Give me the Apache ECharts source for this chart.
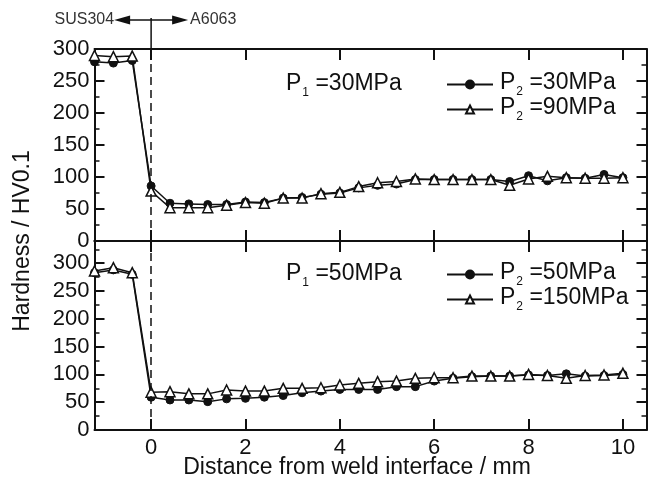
<!DOCTYPE html>
<html>
<head>
<meta charset="utf-8">
<script src="https://cdn.jsdelivr.net/npm/echarts@6/dist/echarts.min.js"></script>
<style>
  html, body { margin: 0; padding: 0; background: #fff; }
  #chart { width: 653px; height: 482px; }
</style>
</head>
<body>
<div id="chart"></div>
<script>
// Measurement positions (mm from the weld interface; negative = SUS304 side)
const distance = [-1.2, -0.8, -0.4, 0, 0.4, 0.8, 1.2, 1.6, 2.0, 2.4, 2.8, 3.2, 3.6, 4.0, 4.4,
                  4.8, 5.2, 5.6, 6.0, 6.4, 6.8, 7.2, 7.6, 8.0, 8.4, 8.8, 9.2, 9.6, 10.0];

// Upper panel: P1 = 30 MPa
const hvP1_30_P2_30 = [280, 278, 282, 86, 59, 58, 57, 57, 61, 60, 67, 68, 73, 75, 83,
                       87, 89, 96, 96, 96, 96, 96, 93, 102, 94, 99, 98, 104, 99];
const hvP1_30_P2_90 = [290, 288, 289, 78, 52, 52, 52, 56, 60, 59, 67, 67, 74, 76, 85,
                       91, 93, 97, 96, 96, 96, 96, 87, 97, 101, 99, 98, 98, 99];

// Lower panel: P1 = 50 MPa
const hvP1_50_P2_50  = [283, 288, 280, 59, 54, 54, 51, 56, 57, 59, 62, 67, 70, 73, 73,
                        73, 78, 78, 88, 93, 96, 97, 97, 99, 98, 101, 97, 98, 100];
const hvP1_50_P2_150 = [286, 292, 283, 68, 69, 65, 65, 72, 70, 70, 75, 75, 76, 81, 84,
                        87, 88, 93, 94, 94, 97, 97, 97, 100, 98, 93, 98, 99, 102];

// Axis ticks
const xTickValues = [0, 2, 4, 6, 8, 10];
const yInterval = 50;

const FONT = '"Liberation Sans", Arial, Helvetica, sans-serif';
const INK = '#111';

function pairs(values) {
  return distance.map((d, i) => [d, values[i]]);
}

function xAxes(gridIndex, withLabels) {
  const common = {
    type: 'value', gridIndex, min: -1.2, max: 10.5,
    axisLine: { show: true, onZero: false, lineStyle: { color: INK, width: 2 } },
    axisTick: { show: true, inside: true, length: 11, customValues: xTickValues,
                lineStyle: { color: INK, width: 2 } },
    splitLine: { show: false }
  };
  return [
    Object.assign({}, common, {
      position: 'bottom',
      axisLabel: withLabels
        ? { show: true, customValues: xTickValues, fontSize: 22, fontFamily: FONT, color: INK, margin: 7 }
        : { show: false }
    }),
    Object.assign({}, common, { position: 'top', axisLabel: { show: false } })
  ];
}

function yAxes(gridIndex, max) {
  const common = {
    type: 'value', gridIndex, min: 0, max, interval: yInterval,
    axisLine: { show: true, onZero: false, lineStyle: { color: INK, width: 2 } },
    axisTick: { show: true, inside: true, length: 10, lineStyle: { color: INK, width: 2 } },
    minorTick: { show: true, splitNumber: 2, length: 5, lineStyle: { color: INK, width: 1.5 } },
    splitLine: { show: false },
    minorSplitLine: { show: false }
  };
  return [
    Object.assign({}, common, {
      position: 'left',
      axisLabel: {
        show: true, fontSize: 22, fontFamily: FONT, color: INK, margin: 5,
        formatter: v => (v % yInterval === 0 ? String(v) : '')
      }
    }),
    Object.assign({}, common, { position: 'right', axisLabel: { show: false } })
  ];
}

function lineSeries(name, values, filled) {
  return {
    name, type: 'line', data: pairs(values),
    symbol: filled ? 'circle' : 'triangle',
    symbolSize: filled ? 8 : 10,
    lineStyle: { color: INK, width: 1.5 },
    itemStyle: filled
      ? { color: INK, borderColor: INK, borderWidth: 1 }
      : { color: '#fff', borderColor: INK, borderWidth: 1.5 },
    z: filled ? 3 : 4,
    animation: false
  };
}

const interfaceLine = {
  silent: true, symbol: ['none', 'none'], animation: false,
  label: { show: false },
  lineStyle: { color: INK, width: 1.5, type: [8, 5] },
  data: [{ xAxis: 0 }]
};

// "P" with a lowered index, e.g. P1 =30MPa
const subRich = {
  p: { fontSize: 23, fontFamily: FONT, fontWeight: 'normal', color: INK, padding: [0, 0, 4, 0] },
  s: { fontSize: 12, fontFamily: FONT, fontWeight: 'normal', color: INK, verticalAlign: 'bottom', padding: [0, 0, 0, 1] },
  t: { fontSize: 23, fontFamily: FONT, fontWeight: 'normal', color: INK, padding: [0, 0, 4, 0] }
};

function pLabel(idx, text) {
  return '{p|P}{s|' + idx + '}{t|' + text + '}';
}

const s1 = lineSeries('P2=30MPa', hvP1_30_P2_30, true);
s1.markLine = interfaceLine;
const s2 = lineSeries('P2=90MPa', hvP1_30_P2_90, false);
const s3 = lineSeries('P2=50MPa', hvP1_50_P2_50, true);
s3.markLine = interfaceLine;
const s4 = lineSeries('P2=150MPa', hvP1_50_P2_150, false);

// Axis indices: each grid owns a bottom/top x axis and a left/right y axis
const xs = xAxes(0, false).concat(xAxes(1, true));
const ys = yAxes(0, 300).concat(yAxes(1, 340));
[s1, s2].forEach(s => { s.xAxisIndex = 0; s.yAxisIndex = 0; });
[s3, s4].forEach(s => { s.xAxisIndex = 2; s.yAxisIndex = 2; });

function legendAt(top, names) {
  return {
    data: names, orient: 'vertical', left: 441, top,
    itemWidth: 46, itemHeight: 10, itemGap: -2,
    inactiveColor: INK, selectedMode: false,
    formatter: name => pLabel(2, ' ' + name.slice(2)),
    textStyle: { rich: subRich, padding: [0, 0, 0, 2] }
  };
}

const chart = echarts.init(document.getElementById('chart'), null, { renderer: 'canvas' });
chart.setOption({
  animation: false,
  backgroundColor: '#fff',
  grid: [
    { left: 94.5, right: 6.5, top: 49, height: 192 },
    { left: 94.5, right: 6.5, top: 241, height: 189 }
  ],
  xAxis: xs,
  yAxis: ys,
  title: [
    { text: pLabel(1, ' =30MPa'), left: 281, top: 67, textStyle: { rich: subRich } },
    { text: pLabel(1, ' =50MPa'), left: 281, top: 257, textStyle: { rich: subRich } }
  ],
  legend: [
    legendAt(66, ['P2=30MPa', 'P2=90MPa']),
    legendAt(256, ['P2=50MPa', 'P2=150MPa'])
  ],
  series: [s1, s2, s3, s4]
});

// Interface marker above the plot and the axis titles
const top0 = chart.convertToPixel({ xAxisIndex: 0, yAxisIndex: 0 }, [0, 300]);
const xi = top0[0], yTop = top0[1];
const ya = yTop - 29;
chart.setOption({
  graphic: [
    { type: 'line', shape: { x1: xi, y1: ya - 2, x2: xi, y2: yTop }, style: { stroke: INK, lineWidth: 1.5 } },
    { type: 'line', shape: { x1: xi - 25, y1: ya, x2: xi + 25, y2: ya }, style: { stroke: INK, lineWidth: 1.5 } },
    { type: 'polygon', shape: { points: [[xi - 37, ya], [xi - 21, ya - 4.5], [xi - 21, ya + 4.5]] }, style: { fill: INK } },
    { type: 'polygon', shape: { points: [[xi + 37, ya], [xi + 21, ya - 4.5], [xi + 21, ya + 4.5]] }, style: { fill: INK } },
    { type: 'text', x: xi - 37, y: ya, style: { text: 'SUS304', font: '16px ' + FONT, fill: '#333', align: 'right', verticalAlign: 'middle' } },
    { type: 'text', x: xi + 39, y: ya, style: { text: 'A6063', font: '16px ' + FONT, fill: '#333', align: 'left', verticalAlign: 'middle' } },
    { type: 'text', x: 23, y: 241, rotation: Math.PI / 2,
      style: { text: 'Hardness / HV0.1', font: '23px ' + FONT, fill: INK, align: 'center', verticalAlign: 'middle' } },
    { type: 'text', x: 357, y: 468,
      style: { text: 'Distance from weld interface / mm', font: '23px ' + FONT, fill: INK, align: 'center', verticalAlign: 'middle' } }
  ]
});
</script>
</body>
</html>
